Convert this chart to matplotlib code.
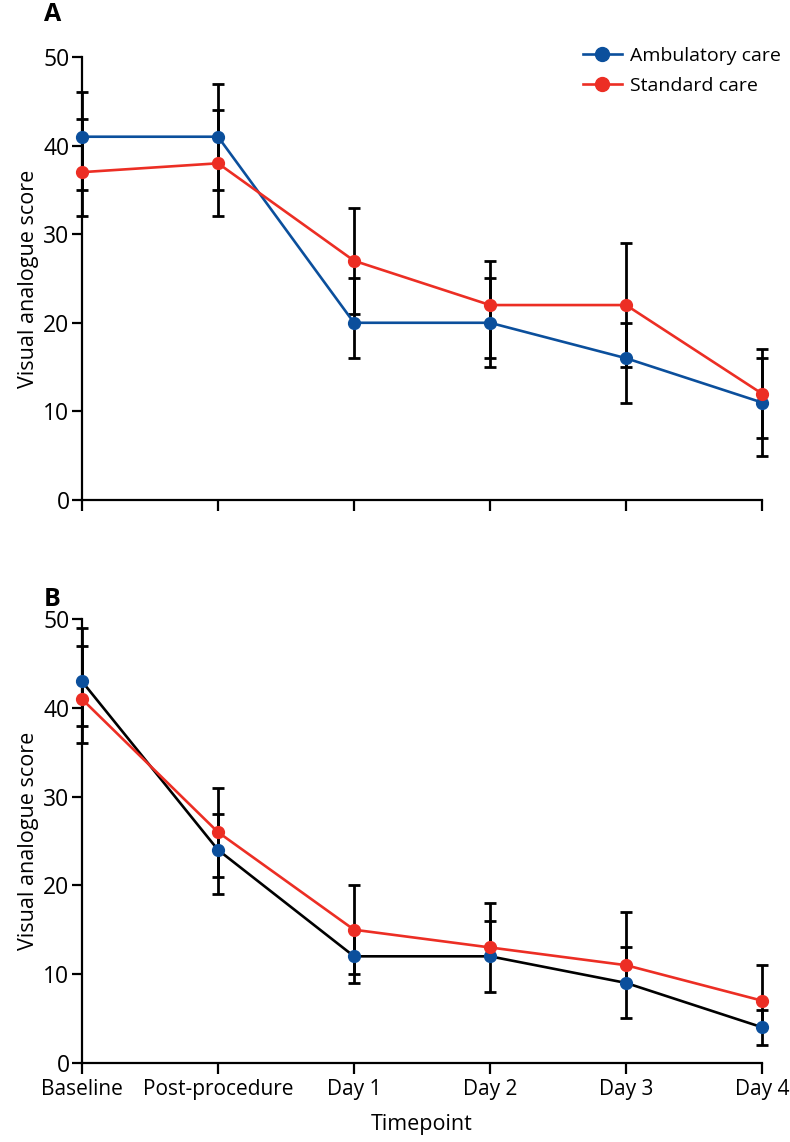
import matplotlib
matplotlib.use("Agg")
import matplotlib.pyplot as plt
from matplotlib.lines import Line2D

plt.rcParams['font.family'] = ['Open Sans', 'DejaVu Sans']

timepoints = ['Baseline', 'Post-procedure', 'Day 1', 'Day 2', 'Day 3', 'Day 4']

# panel A
amb_a = [41, 41, 20, 20, 16, 11]
amb_a_lo = [35, 35, 16, 15, 11, 5]
amb_a_hi = [46, 47, 25, 25, 20, 16]
std_a = [37, 38, 27, 22, 22, 12]
std_a_lo = [32, 32, 21, 16, 15, 7]
std_a_hi = [43, 44, 33, 27, 29, 17]

# panel B
amb_b = [43, 24, 12, 12, 9, 4]
amb_b_lo = [36, 19, 9, 8, 5, 2]
amb_b_hi = [49, 28, 15, 16, 13, 6]
std_b = [41, 26, 15, 13, 11, 7]
std_b_lo = [38, 21, 10, 12, 9, 4]
std_b_hi = [47, 31, 20, 18, 17, 11]

blue = '#0b4f9c'
red = '#ec2e24'

fig = plt.figure(figsize=(7.9, 11.42), dpi=100)
ax_a = fig.add_axes([0.1038, 0.5622, 0.8608, 0.3879])
ax_b = fig.add_axes([0.1038, 0.0694, 0.8608, 0.3883])

x = list(range(len(timepoints)))


def draw(ax, amb, amb_lo, amb_hi, std, std_lo, std_hi, amb_line):
    for vals, lo, hi in [(amb, amb_lo, amb_hi), (std, std_lo, std_hi)]:
        err = [[v - l for v, l in zip(vals, lo)], [h - v for v, h in zip(vals, hi)]]
        ax.errorbar(x, vals, yerr=err, fmt='none', ecolor='black',
                    elinewidth=2.0, capsize=4, capthick=2.0, zorder=2,
                    clip_on=False)
    ax.plot(x, amb, color=amb_line, lw=1.9, zorder=3, clip_on=False)
    ax.plot(x, amb, 'o', color=blue, ms=8.5, zorder=4, clip_on=False)
    ax.plot(x, std, color=red, lw=1.9, zorder=3, clip_on=False)
    ax.plot(x, std, 'o', color=red, ms=8.5, zorder=4, clip_on=False)

    ax.set_xlim(0, 5)
    ax.set_ylim(0, 50)
    ax.set_yticks([0, 10, 20, 30, 40, 50])
    ax.set_xticks(x)
    for s in ['top', 'right']:
        ax.spines[s].set_visible(False)
    for s in ['left', 'bottom']:
        ax.spines[s].set_linewidth(1.6)
    ax.tick_params(axis='y', length=7, width=1.6, labelsize=16.5, pad=2)
    ax.tick_params(axis='x', length=8, width=1.6, labelsize=15, pad=4)
    ax.set_ylabel('Visual analogue score', fontsize=15.5, labelpad=3)


draw(ax_a, amb_a, amb_a_lo, amb_a_hi, std_a, std_a_lo, std_a_hi, blue)
ax_a.set_xticklabels([])
draw(ax_b, amb_b, amb_b_lo, amb_b_hi, std_b, std_b_lo, std_b_hi, 'black')
ax_b.set_xticklabels(timepoints)
ax_b.set_xlabel('Timepoint', fontsize=15.5, labelpad=10)

fig.text(0.056, 0.987, 'A', fontsize=18, fontweight='bold', ha='left', va='center')
fig.text(0.056, 0.475, 'B', fontsize=18, fontweight='bold', ha='left', va='center')

handles = [Line2D([], [], color=blue, lw=1.9, marker='o', ms=10),
           Line2D([], [], color=red, lw=1.9, marker='o', ms=10)]
fig.legend(handles, ['Ambulatory care', 'Standard care'], loc='upper left',
           bbox_to_anchor=(0.728, 0.966), frameon=False, fontsize=14,
           handlelength=2.0, handletextpad=0.4, labelspacing=0.65,
           borderaxespad=0)

fig.savefig('out.png', dpi=100)
